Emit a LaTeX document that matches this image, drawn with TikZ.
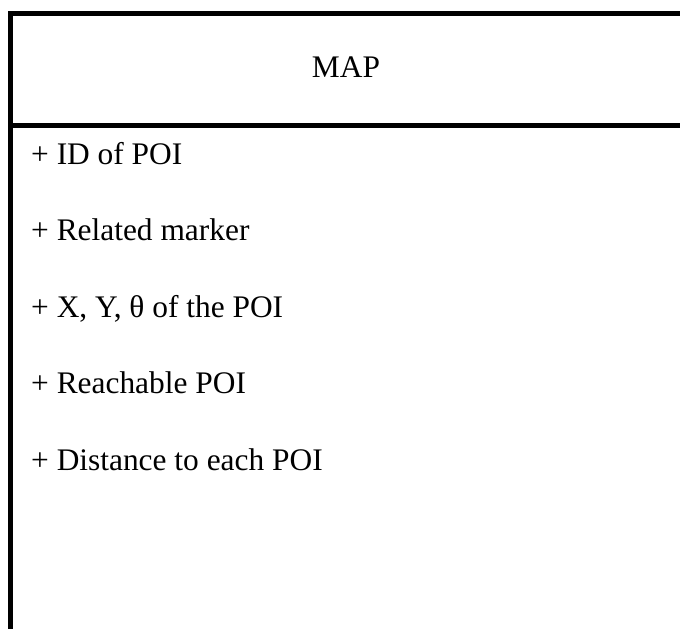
\documentclass[tikz,border=0pt]{standalone}
\usepackage{fontspec}
\setmainfont{Liberation Serif}
\begin{document}
\begin{tikzpicture}[x=1pt,y=1pt,
  frame/.style={line width=5pt,line join=miter},
  title/.style={inner sep=0pt,anchor=base,font=\fontsize{31.4}{36}\selectfont},
  attr/.style={inner sep=0pt,anchor=base west,font=\fontsize{31.4}{36}\selectfont}]
  \useasboundingbox (0,0) rectangle (680,-629);
  \clip (0,0) rectangle (680,-629);
  % class box: open at the bottom and right (runs off the page)
  \coordinate (bl) at (10.5,-640);
  \coordinate (tl) at (10.5,-13);
  \coordinate (tr) at (690,-13);
  \coordinate (hl) at (10.5,-125.5);
  \coordinate (hr) at (690,-125.5);
  \draw[frame] (bl) -- (tl) -- (tr);
  \draw[frame] (hl) -- (hr);
  % class name
  \node[title] (name) at (346,-77) {MAP};
  % attributes
  \node[attr] (a1) at (31,-164) {+ ID of POI};
  \node[attr] (a2) at (31,-240) {+ Related marker};
  \node[attr] (a3) at (31,-317) {+ X, Y, θ of the POI};
  \node[attr] (a4) at (31,-393) {+ Reachable POI};
  \node[attr] (a5) at (31,-470) {+ Distance to each POI};
\end{tikzpicture}
\end{document}
